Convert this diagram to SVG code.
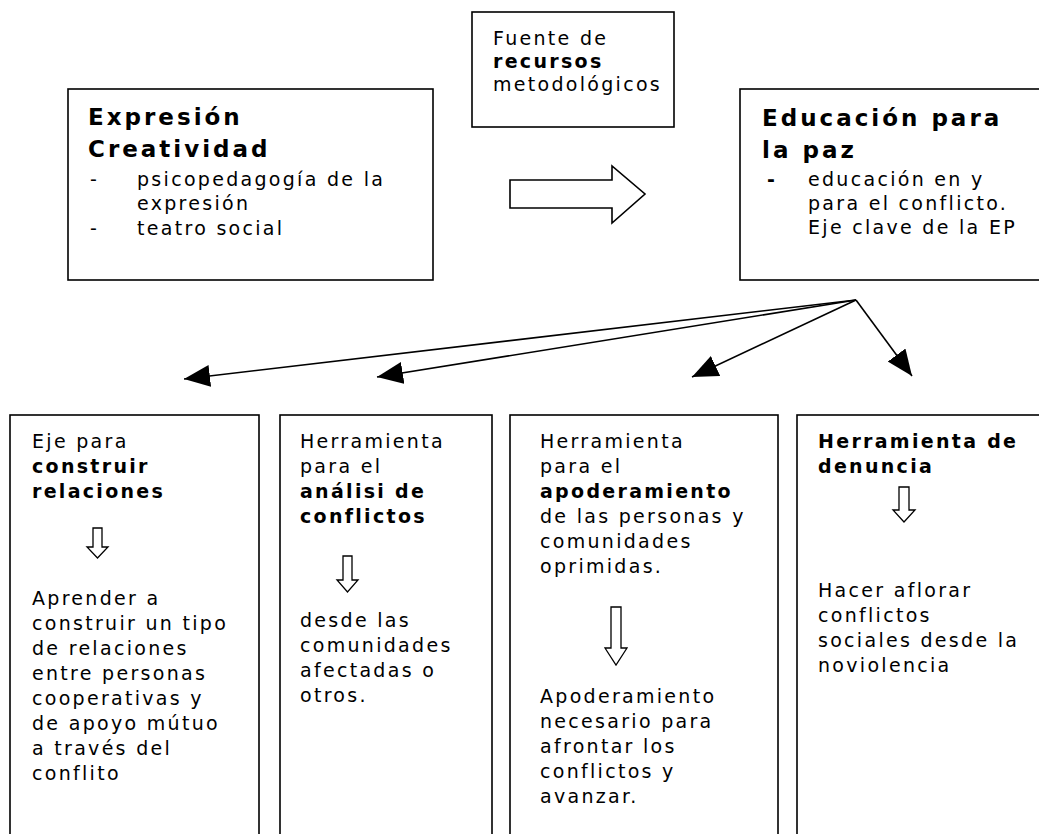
<svg xmlns="http://www.w3.org/2000/svg" width="1039" height="834" viewBox="0 0 1039 834">
<style>
.box{fill:#fff;stroke:#000;stroke-width:1.6}
.t{font-family:"DejaVu Sans",Verdana,sans-serif;font-size:19px;letter-spacing:2.3px;fill:#000}
.b{font-weight:bold}
.h{font-family:"DejaVu Sans",Verdana,sans-serif;font-size:23px;font-weight:bold;letter-spacing:3px;fill:#000}
.ha{fill:#fff;stroke:#000;stroke-width:1.3}
.con{stroke:#000;stroke-width:1.6;fill:none}
</style>
<defs>
<marker id="ah" markerUnits="userSpaceOnUse" markerWidth="28" markerHeight="24" refX="26" refY="11" orient="auto" viewBox="0 0 28 24">
<path d="M0,0 L26,11 L0,22 Z" fill="#000"/>
</marker>
</defs>
<g id="expresion">
<rect class="box" x="68" y="89" width="365" height="191"/>
<text class="h" x="88" y="125">Expresión</text>
<text class="h" x="88" y="157">Creatividad</text>
<text class="t" x="90" y="186">-</text>
<text class="t" x="137" y="186">psicopedagogía de la</text>
<text class="t" x="137" y="210">expresión</text>
<text class="t" x="90" y="235">-</text>
<text class="t" x="137" y="235">teatro social</text>
</g>
<g id="fuente">
<rect class="box" x="472" y="12" width="202" height="115"/>
<text class="t" x="493" y="45">Fuente de</text>
<text class="t b" x="493" y="68">recursos</text>
<text class="t" x="493" y="91">metodológicos</text>
</g>
<g id="flecha">
<polygon class="box" points="510,180 612,180 612,166 645,194 612,223 612,208 510,208"/>
</g>
<g id="educacion">
<rect class="box" x="740" y="89" width="310" height="191"/>
<text class="h" x="762" y="126">Educación para</text>
<text class="h" x="762" y="158">la paz</text>
<text class="t b" x="767" y="186">-</text>
<text class="t" x="808" y="186">educación en y</text>
<text class="t" x="808" y="210">para el conflicto.</text>
<text class="t" x="808" y="234">Eje clave de la EP</text>
</g>
<g id="connectors">
<line class="con" x1="856" y1="300" x2="184" y2="379" marker-end="url(#ah)"/>
<line class="con" x1="856" y1="300" x2="377" y2="377" marker-end="url(#ah)"/>
<line class="con" x1="856" y1="300" x2="692" y2="377" marker-end="url(#ah)"/>
<line class="con" x1="856" y1="300" x2="912" y2="376" marker-end="url(#ah)"/>
</g>
<g id="relaciones">
<rect class="box" x="10" y="415" width="249" height="440"/>
<text class="t" x="32" y="448">Eje para</text>
<text class="t b" x="32" y="473">construir</text>
<text class="t b" x="32" y="498">relaciones</text>
<polygon class="ha" points="93,528 102,528 102,547 108,547 97.5,558 87,547 93,547"/>
<text class="t" x="32" y="605">Aprender a</text>
<text class="t" x="32" y="630">construir un tipo</text>
<text class="t" x="32" y="655">de relaciones</text>
<text class="t" x="32" y="680">entre personas</text>
<text class="t" x="32" y="705">cooperativas y</text>
<text class="t" x="32" y="730">de apoyo mútuo</text>
<text class="t" x="32" y="755">a través del</text>
<text class="t" x="32" y="780">conflito</text>
</g>
<g id="analisis">
<rect class="box" x="280" y="415" width="212" height="440"/>
<text class="t" x="300" y="448">Herramienta</text>
<text class="t" x="300" y="473">para el</text>
<text class="t b" x="300" y="498">análisi de</text>
<text class="t b" x="300" y="523">conflictos</text>
<polygon class="ha" points="343,556 352,556 352,580 358,580 347.5,592 337,580 343,580"/>
<text class="t" x="300" y="627">desde las</text>
<text class="t" x="300" y="652">comunidades</text>
<text class="t" x="300" y="677">afectadas o</text>
<text class="t" x="300" y="702">otros.</text>
</g>
<g id="apoderamiento">
<rect class="box" x="510" y="415" width="268" height="440"/>
<text class="t" x="540" y="448">Herramienta</text>
<text class="t" x="540" y="473">para el</text>
<text class="t b" x="540" y="498">apoderamiento</text>
<text class="t" x="540" y="523">de las personas y</text>
<text class="t" x="540" y="548">comunidades</text>
<text class="t" x="540" y="573">oprimidas.</text>
<polygon class="ha" points="611,607 621,607 621,648 627,648 616,665 605,648 611,648"/>
<text class="t" x="540" y="703">Apoderamiento</text>
<text class="t" x="540" y="728">necesario para</text>
<text class="t" x="540" y="753">afrontar los</text>
<text class="t" x="540" y="778">conflictos y</text>
<text class="t" x="540" y="803">avanzar.</text>
</g>
<g id="denuncia">
<rect class="box" x="797" y="415" width="260" height="440"/>
<text class="t b" x="818" y="448">Herramienta de</text>
<text class="t b" x="818" y="473">denuncia</text>
<polygon class="ha" points="899,487 909,487 909,510 915,510 904,522 893,510 899,510"/>
<text class="t" x="818" y="597">Hacer aflorar</text>
<text class="t" x="818" y="622">conflictos</text>
<text class="t" x="818" y="647">sociales desde la</text>
<text class="t" x="818" y="672">noviolencia</text>
</g>
</svg>
